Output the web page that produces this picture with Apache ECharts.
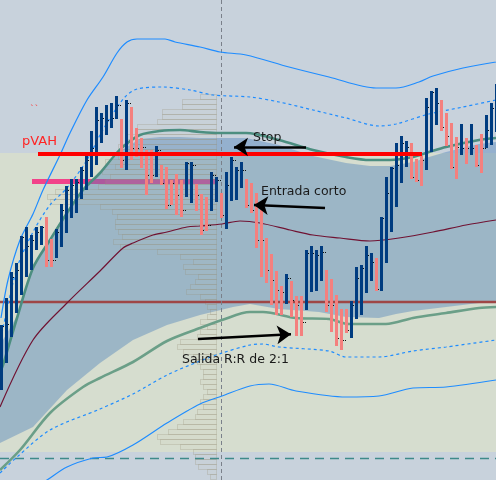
<!DOCTYPE html>
<html><head><meta charset="utf-8">
<script src="https://cdn.jsdelivr.net/npm/echarts@6/dist/echarts.min.js"></script>
<style>html,body{margin:0;padding:0;background:#c8d2dc}#c{width:496px;height:480px}</style>
</head><body><div id="c"></div>
<script>
// ---- OHLC bars (price levels, inverted scale) ----
const highs = [325,298,272,263,236,227,235,227,226,217, 239,229,204,186,179,179,167,156,131,107,
  113,105,103,96,119,100,107,128,138,150, 150,146,165,167,180,174,180,162,162,184,
  194,197,172,177,193,172,157,167,162,179, 183,193,210,238,254,271,286,274,281,296,
  296,250,246,250,246,270,279,295,309,309, 301,267,265,246,253,258,217,177,167,143,
  136,141,143,159,156,98,91,88,100,113, 123,137,124,138,124,145,134,115,103,84];
const lows = [390,363,337,313,295,277,270,250,245,267, 267,258,247,233,218,213,199,190,177,165,
  143,135,128,119,168,170,160,157,168,195, 183,177,185,209,205,215,217,197,203,211,
  235,231,211,202,218,229,201,200,188,208, 213,248,277,283,305,315,315,304,317,336,
  336,310,292,291,281,312,332,346,350,333, 338,319,315,293,281,291,291,263,232,207,
  183,167,179,182,186,170,152,125,131,146, 169,179,155,164,155,167,173,148,145,132];
const closes = [326,324,277,270,237,246,240,232,227,260, 260,232,210,190,185,182,170,160,148,120,
  118,120,118,105,160,103,148,148,147,175, 175,150,183,205,183,195,210,163,165,195,
  230,225,175,180,215,185,160,170,170,205, 210,240,240,270,280,290,292,278,300,305,
  322,253,253,255,252,305,305,338,340,330, 305,278,268,255,262,289,218,193,168,165,
  143,147,177,180,160,107,92,103,127,136, 167,147,148,148,148,165,148,130,108,100];
const dirs = ("uuuuuuuuud"+"duuuuuuuuu"+"uuuududddd"+"duddddduud"+"dduuduuuud"+
  "dddddddudd"+"duuuuddddd"+"uuuuuduuuu"+"uuddduuudd"+"ddududduuu").split('');

// ---- Volume profile ----
const profileLevels = [96,101,106,111,116,121,126,131,136,141,146,151,156,161,166,171,176,181,186,191,
  196,201,206,211,216,221,226,231,236,241,246,251,256,261,266,271,276,281,286,291,
  296,301,306,311,316,321,326,331,336,341,346,351,356,361,366,371,376,381,386,391,
  396,401,406,411,416,421,426,431,436,441,446,451,456,461,466,471,476];
const profileVolume = [16,34,34,54,54,59,79,81,91,79,98,96,98,111,101,114,106,111,118,161,
  169,166,116,104,99,101,101,98,94,103,96,59,36,23,33,31,18,21,26,30,
  16,11,9,6,9,16,9,16,19,36,39,33,23,19,16,13,13,16,13,9,
  13,16,13,19,21,33,39,48,59,56,36,23,21,21,18,9,6];

// ---- Bands / curves : [bar index, level] ----
const blueUpper = [[0,318],[1.4,280],[3.8,240],[6.4,214],[8.4,190],[11.8,155],[13.8,133],[17.2,100],[20.4,77],[23.2,53],[25.2,42],[27.2,39],[32.8,39],[34.8,42],[39.8,47],[43.8,52],[49,55],[57.6,67],[65.6,77],[75,88],[79,88],[83.6,82],[86.4,76],[92.4,68],[99,62]];
const blueUpperDash = [[0.2,333],[3.2,268],[6.4,232],[9.8,205],[13.2,188],[17.2,160],[19.8,135],[22.2,115],[24.8,97],[27.2,89],[32.4,87],[37.8,90],[42.4,95],[49.8,97],[55.6,102],[62.4,110],[69,118],[75.6,126],[79,124],[85.6,114],[92.4,107],[99,100]];
const greenUpper = [[-0.2,372],[0.4,365],[3.2,318],[6.4,268],[9.8,240],[13.2,213],[16.4,190],[19.8,173],[22.8,155],[24.8,145],[27.8,135],[31.8,131],[35.8,130],[39.8,132],[43.8,133],[49,133],[55.6,140],[62.4,150],[69,157],[73.8,160],[77.8,160],[82.4,157],[85.6,152],[89,147],[95.6,140],[99,138]];
const bandTop = [[-0.2,345],[3.2,316],[6.4,268],[9.8,241],[13.2,214],[16.4,191],[19.8,174],[22.8,157],[24.8,148],[27.8,139],[31.8,137],[35.8,137],[39.8,138],[43.8,138],[49,138],[55.6,145],[62.4,156],[69,163],[73.8,166],[77.8,166],[82.4,162],[85.6,157],[89,152],[95.6,144],[99,142]];
const bandBottom = [[-0.2,443],[6.4,427],[13.2,390],[19.8,363],[26.4,340],[33.2,325],[39.8,315],[46.4,307],[49.8,304],[55.6,309],[63.6,312],[69,317],[75.6,318],[79,314],[82.4,311],[89,307],[95.6,303],[99,302]];
const greenLower = [[-0.2,470],[3.8,450],[9.8,413],[16.4,387],[19.8,378],[26.4,362],[33.2,341],[39.8,328],[44.2,320],[49.8,312],[52.4,312],[59,318],[65.6,319],[69.6,324],[77,324],[82.4,318],[89,313],[95.6,308],[99,307]];
const blueLowerDash = [[-0.2,473],[3.2,457],[9.8,430],[19.8,409],[26.4,394],[33.2,375],[39.8,361],[44.2,353],[49.8,345],[52.4,344],[55.6,347],[65.6,351],[69,357],[75.6,357],[82.4,351],[89,347],[99,340]];
const blueLower = [[6.8,488],[9.2,480],[13.2,467],[18.4,458],[21.2,457],[26.4,445],[33.2,423],[39.8,404],[44.2,396],[49.8,386],[53.6,384],[59,391],[69,397],[75.6,396],[82.4,388],[89,387],[99,380]];
const vwap = [[-0.2,407],[6.4,340],[13.2,303],[19.8,271],[24.4,248],[26.4,243],[30.4,235],[33.2,232],[37.2,227],[39.8,226],[44.2,224],[47.8,221],[51.8,223],[57.8,230],[62.4,235],[67.8,238],[73.8,241],[79.6,238],[86.4,232],[93,225],[99,220]];

// ---- Levels and annotations ----
const zoneTop = 153, zoneBottom = 452;
const pvahLevel = 154, pvahFrom = 7.4, pvahTo = 84.2;
const pinkLevel = 181, pinkFrom = 6.2, pinkTo = 42.8;
const midLevel = 302, lowDashLevel = 458, sessionIdx = 44;
const arrows = [[[61.0,147],[46.6,147]], [[64.8,208],[50.6,205.0]], [[39.4,339],[58.0,334.2]]];
const notes = [
  {text:'pVAH', at:[4.2,141.5], color:'#ff2424', font:'13px "DejaVu Sans"'},
  {text:'``', at:[5.8,110], color:'#ff3030', font:'9px "DejaVu Sans"'},
  {text:'Stop', at:[50.4,137.5], color:'#1a1a1a', font:'12.5px "DejaVu Sans"'},
  {text:'Entrada corto', at:[52,191.5], color:'#1a1a1a', font:'12.5px "DejaVu Sans"'},
  {text:'Salida R:R de 2:1', at:[36.2,359.5], color:'#1a1a1a', font:'12.5px "DejaVu Sans"'}
];

const XMIN = -0.2, XMAX = 99;
const bars = highs.map((h, i) => [i, h, lows[i], closes[i], dirs[i] === 'u' ? 1 : 0]);
const profile = profileLevels.map((lv, i) => [profileVolume[i], lv]);

function helper(z, extra) {
  return Object.assign({type:'line', data:[[XMIN,-100]], symbol:'none', lineStyle:{opacity:0}, silent:true, z:z, clip:true}, extra);
}
function curve(data, color, width, dash, z) {
  return {type:'line', data:data, smooth:0.3, symbol:'none', showSymbol:false, silent:true, clip:true, z:z||4,
    lineStyle:{color:color, width:width, type: dash ? [3,3] : 'solid'}};
}
const noLabel = {show:false};

const chart = echarts.init(document.getElementById('c'));
chart.setOption({
  animation:false,
  backgroundColor:'#c8d2dc',
  grid:[{left:0,right:0,top:0,bottom:0},{left:0,top:0,bottom:0,width:216}],
  xAxis:[{type:'value',min:XMIN,max:XMAX,show:false,gridIndex:0},
         {type:'value',min:0,max:216,inverse:true,show:false,gridIndex:1}],
  yAxis:[{type:'value',min:0,max:480,inverse:true,show:false,gridIndex:0},
         {type:'value',min:0,max:480,inverse:true,show:false,gridIndex:1}],
  series:[
    helper(0, {markArea:{silent:true, z:0, itemStyle:{color:'#d6ddcf'},
      data:[[{xAxis:XMIN, yAxis:zoneTop},{xAxis:XMAX, yAxis:zoneBottom}]]}}),
    helper(1, {markLine:{silent:true, z:1, symbol:['none','none'], label:noLabel,
      lineStyle:{color:'#f2428a', width:5, type:'solid'},
      data:[[{coord:[pinkFrom,pinkLevel]},{coord:[pinkTo,pinkLevel]}]]}}),
    {type:'custom', z:2, silent:true, data:[[0,0]], encode:{x:0,y:1},
      renderItem:function(params, api){
        const pts = bandTop.map(p => api.coord(p)).concat(bandBottom.slice().reverse().map(p => api.coord(p)));
        return {type:'polygon', shape:{points:pts}, style:{fill:'rgba(70,125,185,0.40)'}};
      }},
    {type:'custom', z:3, silent:true, xAxisIndex:1, yAxisIndex:1, data:profile, encode:{x:0,y:1},
      renderItem:function(params, api){
        const v = api.value(0), lv = api.value(1);
        const p1 = api.coord([v, lv-2.5]), p2 = api.coord([0, lv+2.5]);
        return {type:'rect', shape:{x:Math.round(p1[0])+0.5, y:Math.round(p1[1])+0.5,
          width:Math.round(p2[0]-p1[0]), height:Math.round(p2[1]-p1[1])},
          style:{fill:'rgba(205,198,180,0.08)', stroke:'rgba(150,142,120,0.26)', lineWidth:1}};
      }},
    curve(vwap, '#701232', 1.2, false),
    curve(blueUpper, '#1e8cff', 1.2, false),
    curve(blueUpperDash, '#1e8cff', 1.2, true),
    curve(blueLower, '#1e8cff', 1.2, false),
    curve(blueLowerDash, '#1e8cff', 1.2, true),
    curve(greenUpper, '#4c8e80', 2.6, false),
    curve(greenLower, '#6b9f88', 2.6, false),
    helper(4, {markLine:{silent:true, z:4, symbol:['none','none'], label:noLabel,
      data:[
        {yAxis:midLevel, lineStyle:{color:'#9e4646', width:2.4, type:'solid'}},
        {yAxis:lowDashLevel, lineStyle:{color:'#3e8a8a', width:1.4, type:[9,6]}},
        {xAxis:sessionIdx, lineStyle:{color:'#7a808a', width:1, type:[4,3]}}
      ]}}),
    {type:'custom', z:5, silent:true, data:bars, encode:{x:0,y:[1,2]},
      renderItem:function(params, api){
        const i = api.value(0), up = api.value(4);
        const a = api.coord([i, api.value(1)]), b = api.coord([i, api.value(2)]), c = api.coord([i, api.value(3)]);
        const x = Math.round(a[0]) + 0.5, yc = Math.round(c[1]) + 0.5;
        return {type:'group', children:[
          {type:'line', shape:{x1:x, y1:a[1], x2:x, y2:b[1]}, style:{stroke: up ? '#003c80' : '#f4807e', lineWidth:3}},
          {type:'line', shape:{x1:x+1.5, y1:yc, x2:x+4.5, y2:yc}, style:{stroke:'#101010', lineWidth:1, lineDash:[1,1]}}
        ]};
      }},
    helper(6, {markLine:{silent:true, z:6, symbol:['none','none'], label:noLabel,
      lineStyle:{color:'#ff0000', width:4, type:'solid'},
      data:[[{coord:[pvahFrom,pvahLevel]},{coord:[pvahTo,pvahLevel]}]]}}),
    helper(7, {markLine:{silent:true, z:7, symbol:['none','arrow'], symbolSize:14, label:noLabel,
      lineStyle:{color:'#000000', width:2.6, type:'solid'},
      data:arrows.map(a => [{coord:a[0]},{coord:a[1]}])}})
  ]
});

chart.setOption({graphic: notes.map(n => {
  const p = chart.convertToPixel({gridIndex:0}, n.at);
  return {type:'text', x:p[0], y:p[1], z:10, silent:true,
    style:{text:n.text, fill:n.color, font:n.font, align:'left', verticalAlign:'middle'}};
})});
</script></body></html>
